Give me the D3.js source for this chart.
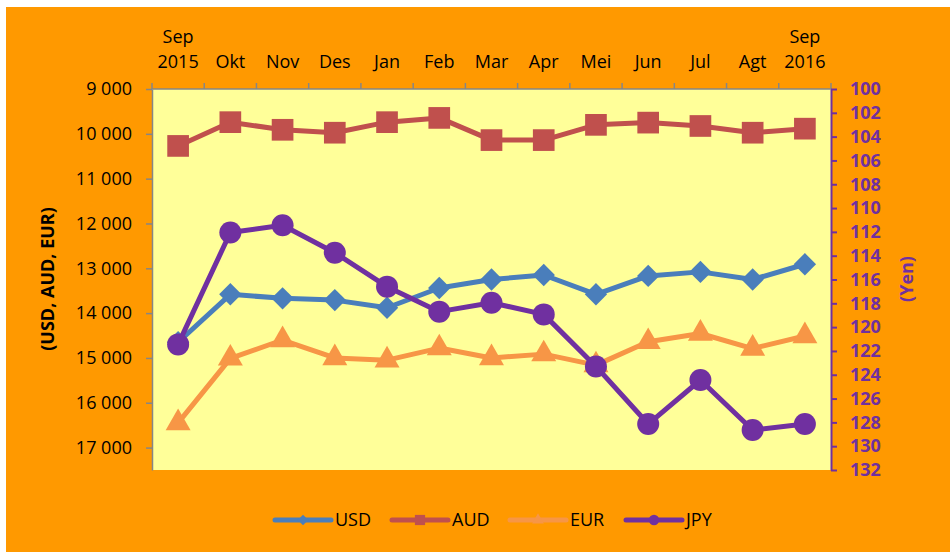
<!DOCTYPE html>
<html>
<head>
<meta charset="utf-8">
<script src="https://cdn.jsdelivr.net/npm/d3@7/dist/d3.min.js"></script>
<style>
  html, body { margin: 0; padding: 0; background: #fff; }
  svg { display: block; font-family: "Open Sans", "Liberation Sans", sans-serif; }
</style>
</head>
<body>
<div id="chart"></div>
<script>
// categories (two-line labels split by \n)
const months = ["Sep\n2015", "Okt", "Nov", "Des", "Jan", "Feb", "Mar", "Apr", "Mei", "Jun", "Jul", "Agt", "Sep\n2016"];

// Rupiah per unit, left axis (reversed)
const usd = [14650, 13580, 13670, 13710, 13880, 13440, 13250, 13150, 13580, 13170, 13080, 13250, 12910];
const aud = [10270, 9740, 9910, 9975, 9740, 9645, 10140, 10140, 9800, 9750, 9825, 9975, 9885];
const eur = [16450, 15010, 14600, 15000, 15050, 14780, 15000, 14915, 15160, 14640, 14455, 14790, 14510];
// Rupiah per yen, right axis (reversed)
const jpy = [121.45, 112.05, 111.45, 113.75, 116.6, 118.7, 117.95, 118.93, 123.3, 128.14, 124.44, 128.64, 128.14];

const leftTicks = d3.range(9000, 17001, 1000);
const rightTicks = d3.range(100, 133, 2);

const width = 950, height = 552;
const plot = { left: 152, right: 831, top: 89, bottom: 470 };
const fs = 18;

const svg = d3.select("#chart").append("svg")
  .attr("width", width)
  .attr("height", height);

// background
svg.append("rect")
  .attr("x", 6).attr("y", 7)
  .attr("width", width - 6).attr("height", height - 7)
  .attr("fill", "#FF9900");

svg.append("rect")
  .attr("x", plot.left).attr("y", plot.top)
  .attr("width", plot.right - plot.left).attr("height", plot.bottom - plot.top)
  .attr("fill", "#FFFF99");

const x = d3.scaleBand().domain(months).range([plot.left, plot.right]).padding(0);
const cx = d => x(d) + x.bandwidth() / 2;
const yLeft = d3.scaleLinear().domain([9000, 17500]).range([plot.top, plot.bottom]);
const yRight = d3.scaleLinear().domain([100, 132]).range([plot.top, plot.bottom]);

const fmt = d3.formatLocale({ decimal: ",", thousands: " ", grouping: [3], currency: ["", ""] }).format(",");

// top category axis: ticks on boundaries, labels centred
const topAx = svg.append("g");
topAx.append("line")
  .attr("x1", plot.left).attr("x2", plot.right)
  .attr("y1", plot.top).attr("y2", plot.top)
  .attr("stroke", "#868686").attr("stroke-width", 1.5);
topAx.selectAll("line.tk")
  .data(months.map(m => x(m)).concat([plot.right]))
  .join("line").attr("class", "tk")
  .attr("x1", d => d).attr("x2", d => d)
  .attr("y1", plot.top - 6).attr("y2", plot.top)
  .attr("stroke", "#868686").attr("stroke-width", 1.5);
const lbl = topAx.selectAll("text")
  .data(months)
  .join("text")
  .attr("text-anchor", "middle")
  .attr("font-size", fs)
  .attr("fill", "#000");
lbl.each(function (d) {
  const parts = d.split("\n");
  const t = d3.select(this);
  parts.forEach((p, i) => {
    t.append("tspan")
      .attr("x", cx(d))
      .attr("y", 68 - (parts.length - 1 - i) * 25)
      .text(p);
  });
});

// left axis
const gl = svg.append("g")
  .attr("transform", `translate(${plot.left},0)`)
  .call(d3.axisLeft(yLeft).tickValues(leftTicks).tickSize(6).tickSizeOuter(0).tickPadding(14).tickFormat(fmt));
gl.select(".domain").attr("stroke", "#868686").attr("stroke-width", 1.5);
gl.selectAll(".tick line").attr("stroke", "#868686").attr("stroke-width", 1.5);
gl.selectAll(".tick text").attr("font-size", fs).attr("fill", "#000").style("font-family", "'Open Sans', sans-serif");

// right axis
const gr = svg.append("g")
  .attr("transform", `translate(${plot.right},0)`)
  .call(d3.axisRight(yRight).tickValues(rightTicks).tickSize(6).tickSizeOuter(0).tickPadding(13));
gr.select(".domain").attr("stroke", "#7030A0").attr("stroke-width", 2);
gr.selectAll(".tick line").attr("stroke", "#7030A0").attr("stroke-width", 2);
gr.selectAll(".tick text").attr("font-size", fs).attr("font-weight", "bold").attr("fill", "#7030A0").style("font-family", "'Open Sans', sans-serif");

// axis titles
svg.append("text")
  .attr("transform", "translate(54,279) rotate(-90)")
  .attr("text-anchor", "middle")
  .attr("font-size", fs).attr("font-weight", "bold")
  .text("(USD, AUD, EUR)");
svg.append("text")
  .attr("transform", "translate(913,279) rotate(-90)")
  .attr("text-anchor", "middle")
  .attr("font-size", fs).attr("font-weight", "bold")
  .attr("fill", "#7030A0")
  .text("(Yen)");

// series
const series = [
  { name: "USD", values: usd, y: yLeft, color: "#4A7EBB", symbol: d3.symbolSquare, size: 250, rot: 45 },
  { name: "AUD", values: aud, y: yLeft, color: "#C0504D", symbol: d3.symbolSquare, size: 470, rot: 0 },
  { name: "EUR", values: eur, y: yLeft, color: "#F79646", symbol: d3.symbolTriangle, size: 270, rot: 0 },
  { name: "JPY", values: jpy, y: yRight, color: "#7030A0", symbol: d3.symbolCircle, size: 380, rot: 0 }
];

series.forEach(s => {
  const pts = s.values.map((v, i) => [cx(months[i]), s.y(v)]);
  svg.append("path")
    .attr("d", d3.line()(pts))
    .attr("fill", "none")
    .attr("stroke", s.color)
    .attr("stroke-width", 5)
    .attr("stroke-linejoin", "round");
  svg.append("g").selectAll("path")
    .data(pts)
    .join("path")
    .attr("transform", d => `translate(${d[0]},${d[1]}) rotate(${s.rot})`)
    .attr("d", d3.symbol(s.symbol, s.size))
    .attr("fill", s.color);
});

// legend
const legendX = [275, 392, 510, 626];
const lg = svg.append("g");
series.forEach((s, i) => {
  const g = lg.append("g").attr("transform", `translate(${legendX[i]},520)`);
  g.append("line")
    .attr("x1", 0).attr("x2", 56)
    .attr("stroke", s.color).attr("stroke-width", 5).attr("stroke-linecap", "round");
  g.append("path")
    .attr("transform", `translate(28,0) rotate(${s.rot})`)
    .attr("d", d3.symbol(s.symbol, s.size / 4.5))
    .attr("fill", s.color);
  g.append("text")
    .attr("x", 60).attr("y", 6)
    .attr("font-size", fs)
    .text(s.name);
});
</script>
</body>
</html>
